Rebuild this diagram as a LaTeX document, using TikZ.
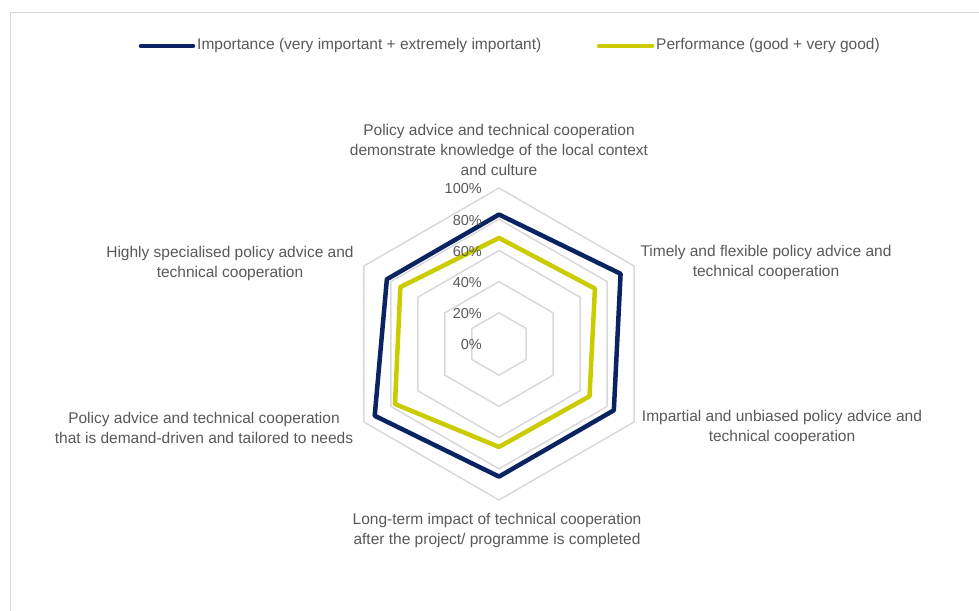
\documentclass[tikz,border=0pt]{standalone}
\usepackage{fontspec}
\setmainfont{Liberation Sans}
\definecolor{txtgray}{HTML}{595959}
\definecolor{ringgray}{HTML}{D9D9D9}
\definecolor{navy}{HTML}{0B2263}
\definecolor{lime}{HTML}{CACC00}
\tikzset{
  lbl/.style={font=\fontsize{15.5}{20}\selectfont, text=txtgray, align=center, inner sep=0pt},
  tick/.style={font=\fontsize{14.5}{17}\selectfont, text=txtgray, anchor=east, inner sep=0pt},
  ring/.style={draw=ringgray, line width=1.5pt},
  series/.style={line width=4.5pt, line join=round},
}
\begin{document}
\begin{tikzpicture}[x=1pt,y=1pt]
\useasboundingbox (0,0) rectangle (979,610);
\fill[white] (0,0) rectangle (979,610);
% frame
\draw[ringgray, line width=1pt] (10,-5) -- (10,597) -- (985,597);
% legend
\draw[navy, line width=4.5pt, line cap=round] (141,564) -- (193,564);
\node[lbl, anchor=west] (leg1) at (197,564) {Importance (very important + extremely important)};
\draw[lime, line width=4.5pt, line cap=round] (599,564) -- (652,564);
\node[lbl, anchor=west] (leg2) at (656,564) {Performance (good + very good)};
% radar
\begin{scope}[shift={(499,266)}]
  \foreach \k in {1,...,5} {
    \pgfmathsetmacro{\r}{31.2*\k}
    \draw[ring] (90:\r) -- (30:\r) -- (-30:\r) -- (-90:\r) -- (210:\r) -- (150:\r) -- cycle;
  }
  \draw[series, navy] (90:1.56*83) -- (30:1.56*90) -- (-30:1.56*85) -- (-90:1.56*85) -- (210:1.56*92) -- (150:1.56*83) -- cycle;
  \draw[series, lime] (90:1.56*68) -- (30:1.56*71) -- (-30:1.56*67) -- (-90:1.56*66) -- (210:1.56*77) -- (150:1.56*73) -- cycle;
  \foreach \k/\t in {0/0\%,1/20\%,2/40\%,3/60\%,4/80\%,5/100\%} {
    \node[tick] (t\k) at (-17, 31.2*\k-1) {\t};
  }
\end{scope}
% category labels
\node[lbl] (c1) at (499,460) {Policy advice and technical cooperation\\demonstrate knowledge of the local context\\and culture};
\node[lbl] (c2) at (766,348) {Timely and flexible policy advice and\\technical cooperation};
\node[lbl] (c3) at (782,183) {Impartial and unbiased policy advice and\\technical cooperation};
\node[lbl] (c4) at (497,80) {Long-term impact of technical cooperation\\after the project/ programme is completed};
\node[lbl] (c5) at (204,182) {Policy advice and technical cooperation\\that is demand-driven and tailored to needs};
\node[lbl] (c6) at (230,347) {Highly specialised policy advice and\\technical cooperation};
\end{tikzpicture}
\end{document}
